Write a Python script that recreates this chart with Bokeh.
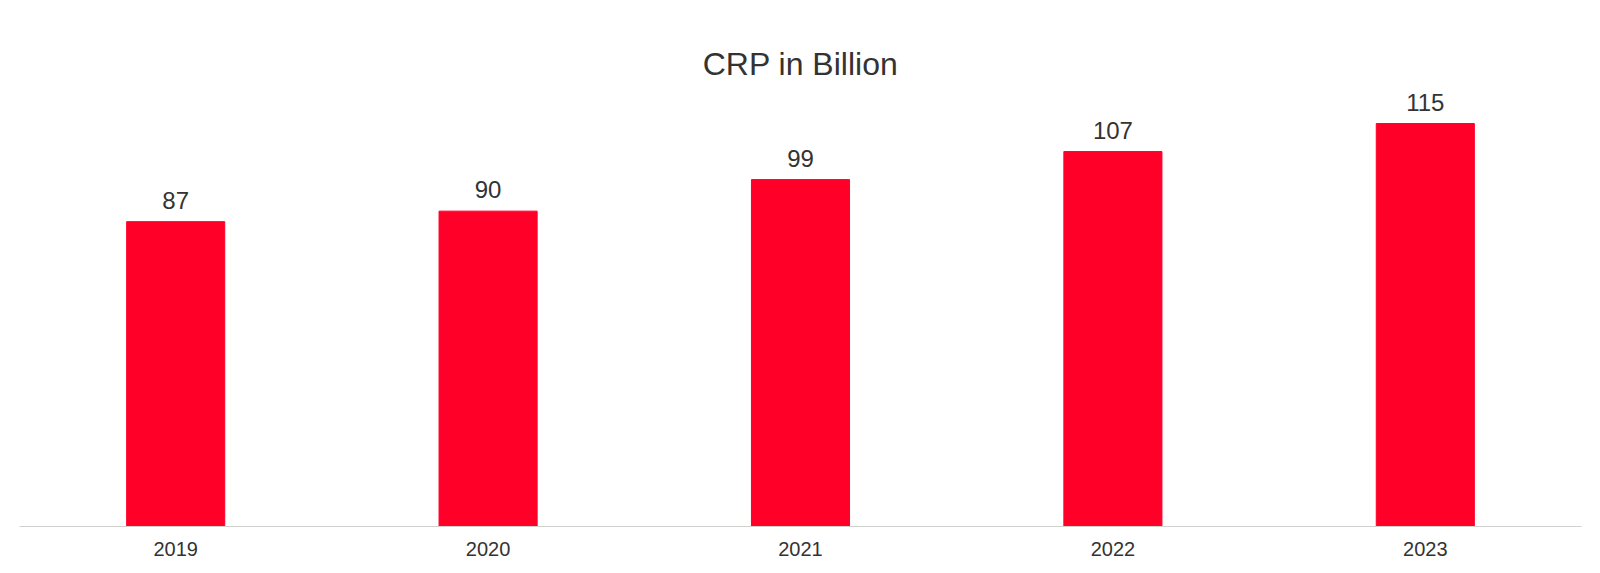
from bokeh.plotting import figure
from bokeh.models import ColumnDataSource, Range1d, LabelSet
from bokeh.core.properties import value
from bokeh.embed import file_html
from bokeh.resources import INLINE

years = ["2019", "2020", "2021", "2022", "2023"]
values = [87, 90, 99, 107, 115]
labels = [str(v) for v in values]

src = ColumnDataSource(dict(years=years, values=values, labels=labels))

FONT = "Liberation Sans"
TXT = "#333333"

p = figure(x_range=years, y_range=Range1d(0, 125), width=1600, height=573,
           output_backend="svg", toolbar_location=None,
           title="CRP in Billion",
           min_border_left=19, min_border_right=19, min_border_bottom=47, min_border_top=88)
p.title.align = "center"
p.title.text_font = FONT
p.title.text_font_size = "32px"
p.title.text_font_style = "normal"
p.title.text_color = TXT
p.title.standoff = 13

p.vbar(x="years", top="values", width=0.314, source=src, color="#FF0029")

p.add_layout(LabelSet(x="years", y="values", text="labels", source=src,
                      y_offset=13, text_align="center", text_baseline="bottom",
                      text_font=value(FONT), text_font_size=value("24px"),
                      text_color=TXT))

p.yaxis.visible = False
p.xgrid.grid_line_color = None
p.ygrid.grid_line_color = None
p.outline_line_color = None
p.xaxis.axis_line_color = "#d0d0cc"
p.xaxis.axis_line_width = 1
p.xaxis.major_tick_line_color = None
p.xaxis.minor_tick_line_color = None
p.xaxis.major_tick_out = 0
p.xaxis.major_label_standoff = 15
p.xaxis.major_label_text_font = FONT
p.xaxis.major_label_text_font_size = "20px"
p.xaxis.major_label_text_color = TXT

open("out.html", "w").write(file_html(p, INLINE))
